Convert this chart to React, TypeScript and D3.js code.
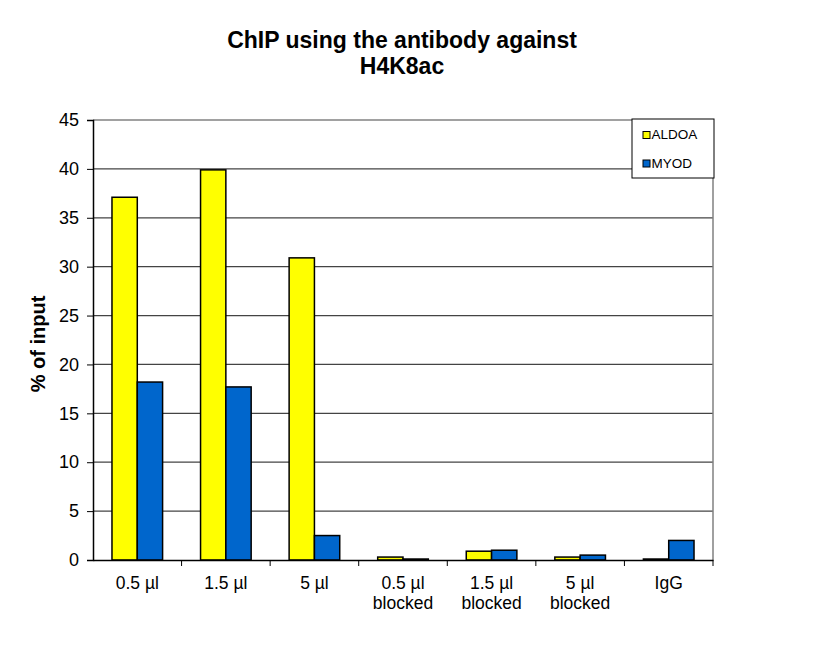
import { useEffect, useRef } from "react";
import * as d3 from "d3";

const categories = ["0.5 µl", "1.5 µl", "5 µl", "0.5 µl\nblocked", "1.5 µl\nblocked", "5 µl\nblocked", "IgG"];
const seriesNames = ["ALDOA", "MYOD"];
const aldoa = [37.1, 39.9, 30.9, 0.3, 0.9, 0.3, 0.1];
const myod = [18.2, 17.7, 2.5, 0.1, 1.0, 0.5, 2.0];
const yTicks = [0, 5, 10, 15, 20, 25, 30, 35, 40, 45];
const colors = ["#FFFF00", "#0066CC"];

const W = 818;
const H = 650;
const margin = { top: 120, right: 105, bottom: 90, left: 93 };
const FONT = "Arial, 'Liberation Sans', sans-serif";

function App() {
  const ref = useRef<SVGSVGElement>(null);

  useEffect(() => {
    const svg = d3.select(ref.current);
    svg.selectAll("*").remove();

    const x = d3
      .scaleBand()
      .domain(categories)
      .range([margin.left, W - margin.right]);

    const y = d3
      .scaleLinear()
      .domain([0, 45])
      .range([H - margin.bottom, margin.top]);

    const inner = d3
      .scaleBand()
      .domain(seriesNames)
      .range([0, x.bandwidth()])
      .paddingInner(0)
      .paddingOuter(0.75);

    // gridlines
    svg
      .append("g")
      .selectAll("line")
      .data(yTicks.filter((t) => t > 0))
      .join("line")
      .attr("x1", margin.left)
      .attr("x2", W - margin.right)
      .attr("y1", (d) => y(d))
      .attr("y2", (d) => y(d))
      .attr("stroke", "#444")
      .attr("stroke-width", 1.2);

    // right border
    svg
      .append("line")
      .attr("x1", W - margin.right)
      .attr("x2", W - margin.right)
      .attr("y1", y(45))
      .attr("y2", y(0))
      .attr("stroke", "#808080")
      .attr("stroke-width", 1.5);

    // bars
    const data = [aldoa, myod];
    seriesNames.forEach((s, si) => {
      svg
        .append("g")
        .selectAll("rect")
        .data(data[si])
        .join("rect")
        .attr("x", (_, i) => (x(categories[i]) ?? 0) + (inner(s) ?? 0))
        .attr("y", (d) => y(d))
        .attr("width", inner.bandwidth())
        .attr("height", (d) => y(0) - y(d))
        .attr("fill", colors[si])
        .attr("stroke", "#000")
        .attr("stroke-width", 1.5);
    });

    // y axis
    const yAxis = svg
      .append("g")
      .attr("transform", `translate(${margin.left},0)`)
      .call(d3.axisLeft(y).tickValues(yTicks).tickSize(6).tickPadding(8));
    yAxis.select(".domain").attr("stroke", "#000").attr("stroke-width", 1.5);
    yAxis.selectAll(".tick line").attr("stroke", "#000");
    yAxis
      .selectAll("text")
      .attr("font-family", FONT)
      .attr("font-size", 18)
      .attr("fill", "#000");

    // x axis
    const xAxis = svg
      .append("g")
      .attr("transform", `translate(0,${y(0)})`)
      .call(d3.axisBottom(x).tickSize(0).tickFormat(() => ""));
    xAxis.select(".domain").attr("stroke", "#000").attr("stroke-width", 1.5);
    xAxis
      .append("g")
      .selectAll("line")
      .data(categories.slice(1).concat(["end"]))
      .join("line")
      .attr("x1", (d, i) => (d === "end" ? W - margin.right : x(categories[i + 1]) ?? 0))
      .attr("x2", (d, i) => (d === "end" ? W - margin.right : x(categories[i + 1]) ?? 0))
      .attr("y1", 0)
      .attr("y2", 6)
      .attr("stroke", "#000");

    const labels = svg
      .append("g")
      .selectAll("text")
      .data(categories)
      .join("text")
      .attr("x", (d) => (x(d) ?? 0) + x.bandwidth() / 2)
      .attr("y", y(0) + 29)
      .attr("text-anchor", "middle")
      .attr("font-family", FONT)
      .attr("font-size", 17.5)
      .attr("fill", "#000");
    labels
      .selectAll("tspan")
      .data((d) => d.split("\n").map((t, i) => ({ t, i, x: (x(d) ?? 0) + x.bandwidth() / 2 })))
      .join("tspan")
      .attr("x", (d) => d.x)
      .attr("dy", (d) => (d.i === 0 ? 0 : 19.5))
      .text((d) => d.t);

    // y axis label
    svg
      .append("text")
      .attr("transform", `translate(45,344) rotate(-90)`)
      .attr("text-anchor", "middle")
      .attr("font-family", FONT)
      .attr("font-weight", "bold")
      .attr("font-size", 20)
      .text("% of input");

    // title
    const title = svg
      .append("text")
      .attr("x", 402)
      .attr("y", 48)
      .attr("text-anchor", "middle")
      .attr("font-family", FONT)
      .attr("font-weight", "bold")
      .attr("font-size", 23);
    title.append("tspan").attr("x", 402).text("ChIP using the antibody against");
    title.append("tspan").attr("x", 402).attr("dy", 25.5).text("H4K8ac");

    // legend
    const lg = svg.append("g").attr("transform", "translate(632,119)");
    lg.append("rect")
      .attr("width", 82)
      .attr("height", 59)
      .attr("fill", "#fff")
      .attr("stroke", "#000")
      .attr("stroke-width", 1);
    seriesNames.forEach((s, i) => {
      lg.append("rect")
        .attr("x", 11)
        .attr("y", 12.5 + i * 28.5)
        .attr("width", 7)
        .attr("height", 7)
        .attr("fill", colors[i])
        .attr("stroke", "#000")
        .attr("stroke-width", 1);
      lg.append("text")
        .attr("x", 19.5)
        .attr("y", 20 + i * 28.5)
        .attr("font-family", FONT)
        .attr("font-size", 13.5)
        .text(s);
    });
  }, []);

  return (
    <svg
      ref={ref}
      width={W}
      height={H}
      style={{ position: "absolute", left: 0, top: 0, background: "#fff" }}
    />
  );
}

export default App;
